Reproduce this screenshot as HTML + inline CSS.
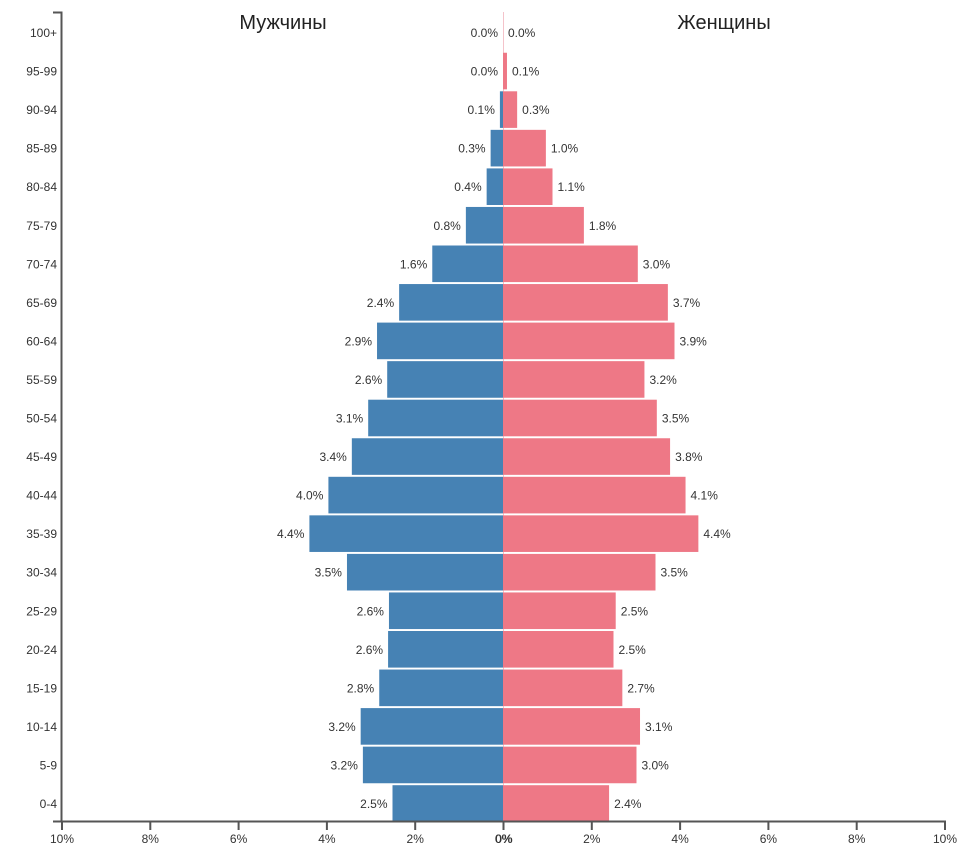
<!DOCTYPE html>
<html><head><meta charset="utf-8"><style>
body{margin:0;background:#fff;}
text{font-family:"Liberation Sans",Arial,sans-serif;fill:#333;}
</style></head><body>
<svg width="974" height="861" xmlns="http://www.w3.org/2000/svg">
<line x1="503.5" y1="12" x2="503.5" y2="820" stroke="#f4c3ca" stroke-width="1"/>
<g id="bars"></g>
<path d="M53,12.5H61.5V821.5M53,821.5H946" stroke="#555" stroke-width="2" fill="none"/>
<g id="ticks"></g>
<text x="283" y="29" font-size="20" text-anchor="middle" style="fill:#222">Мужчины</text>
<text x="724" y="29" font-size="20" text-anchor="middle" style="fill:#222">Женщины</text>
</svg>
<script>
(function(){
var ages=["100+","95-99","90-94","85-89","80-84","75-79","70-74","65-69","60-64","55-59","50-54","45-49","40-44","35-39","30-34","25-29","20-24","15-19","10-14","5-9","0-4"];
var m=[0.0,0.0,0.1,0.3,0.4,0.8,1.6,2.4,2.9,2.6,3.1,3.4,4.0,4.4,3.5,2.6,2.6,2.8,3.2,3.2,2.5];
var f=[0.0,0.1,0.3,1.0,1.1,1.8,3.0,3.7,3.9,3.2,3.5,3.8,4.1,4.4,3.5,2.5,2.5,2.7,3.1,3.0,2.4];
var mp=[0,0,0.07,0.28,0.37,0.84,1.6,2.35,2.85,2.62,3.05,3.42,3.95,4.38,3.53,2.58,2.6,2.8,3.22,3.17,2.5];
var fp=[0,0.09,0.32,0.97,1.12,1.83,3.05,3.73,3.88,3.2,3.48,3.78,4.13,4.42,3.45,2.55,2.5,2.7,3.1,3.02,2.4];
var C=503,S=44.2,P=38.55,ns="http://www.w3.org/2000/svg";
var b=document.getElementById("bars"),t=document.getElementById("ticks");
function el(p,n,a,txt){var e=document.createElementNS(ns,n);for(var k in a)e.setAttribute(k,a[k]);if(txt!=null)e.textContent=txt;p.appendChild(e);return e;}
for(var i=0;i<21;i++){
 var cy=32.5+i*P, ty=cy-18.3;
 el(t,"text",{x:57,y:cy+4.5,"font-size":12,"text-anchor":"end"},ages[i]);
 var wm=mp[i]*S, wf=fp[i]*S;
 if(wm>0)el(b,"rect",{x:C-wm,y:ty,width:wm,height:36.6,fill:"#4682b4"});
 if(wf>0)el(b,"rect",{x:C,y:ty,width:wf,height:36.6,fill:"#ee7886"});
 el(b,"text",{x:C-wm-5,y:cy+4.5,"font-size":12,"text-anchor":"end"},m[i].toFixed(1)+"%");
 el(b,"text",{x:C+wf+5,y:cy+4.5,"font-size":12},f[i].toFixed(1)+"%");
}
var labs=[10,8,6,4,2,0,2,4,6,8,10];
for(var j=0;j<11;j++){
 var x=62+j*88.3;
 el(t,"line",{x1:x,y1:821,x2:x,y2:830,stroke:"#555","stroke-width":2});
 el(t,"text",{x:x,y:843,"font-size":12,"text-anchor":"middle"},labs[j]+"%");
}
el(t,"text",{x:504,y:843,"font-size":12,"text-anchor":"middle"},"0%");
})();
</script>
</body></html>
